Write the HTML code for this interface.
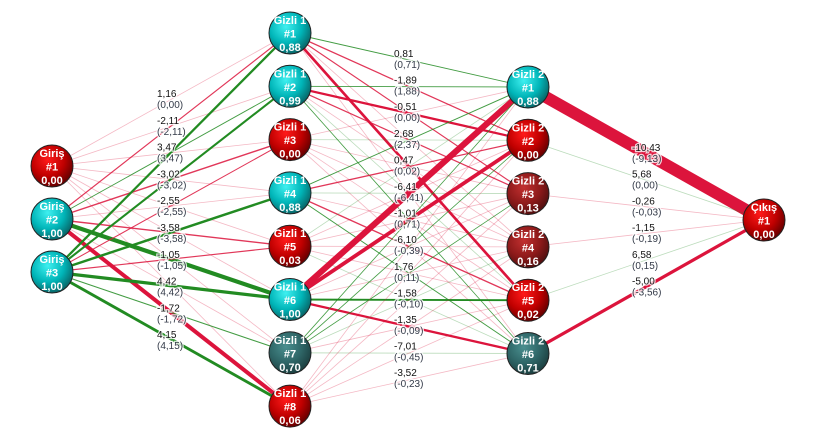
<!DOCTYPE html>
<html><head><meta charset="utf-8"><style>
html,body{margin:0;padding:0;background:#fff;}
svg{display:block;font-family:"Liberation Sans",sans-serif;}
</style></head><body>
<svg id="net" width="817" height="447" viewBox="0 0 817 447" xmlns="http://www.w3.org/2000/svg">
<defs>
<radialGradient id="gCyan" cx="40%" cy="35%" r="65%"><stop offset="0" stop-color="#3ff0f0"/><stop offset="0.6" stop-color="#00b5b8"/><stop offset="1" stop-color="#086a6c"/></radialGradient>
<radialGradient id="gTeal" cx="40%" cy="35%" r="65%"><stop offset="0" stop-color="#4a8f8f"/><stop offset="0.6" stop-color="#2e6566"/><stop offset="1" stop-color="#1d4243"/></radialGradient>
<radialGradient id="gRed" cx="40%" cy="35%" r="65%"><stop offset="0" stop-color="#ff1a1a"/><stop offset="0.6" stop-color="#c00000"/><stop offset="1" stop-color="#6a0000"/></radialGradient>
<radialGradient id="gBrown" cx="40%" cy="35%" r="65%"><stop offset="0" stop-color="#c23030"/><stop offset="0.6" stop-color="#8e1a1a"/><stop offset="1" stop-color="#551010"/></radialGradient>
</defs>
<g id="edges"></g><g id="labels"></g><g id="nodes"></g>
</svg>
<script>
// Layer data
const inputVals = [0.00, 1.00, 1.00];
const hidden1Vals = [0.88, 0.99, 0.00, 0.88, 0.03, 1.00, 0.70, 0.06];
const hidden2Vals = [0.88, 0.00, 0.13, 0.16, 0.02, 0.71];
const outputVals = [0.00];
// weights [from][to] (estimated)
const w1 = [
 [-0.3,-0.4,-0.3,-0.3,-0.3,-0.3,-0.3,-0.3],
 [-1.2, 1.0,-1.5,-0.6,-1.5, 4.4,-0.4,-4.2],
 [ 2.4, 2.2,-1.1, 2.6,-1.2, 3.4, 1.1, 3.0]
];
const w2 = [
 [ 1.0,-1.3,-1.2,-0.5,-2.8,-0.5],
 [ 1.0,-2.4,-1.3,-0.5, 0.6, 0.8],
 [-0.4, 0.4,-0.4,-0.3,-0.4,-0.3],
 [ 1.0,-1.3, 0.5,-0.4,-1.4, 1.0],
 [ 0.4,-0.4,-0.3,-0.4,-0.3, 0.4],
 [-6.4,-4.0,-0.6,-0.6, 2.0,-2.4],
 [ 0.8, 0.8, 0.8, 0.4,-0.4, 0.5],
 [-0.5,-0.4,-0.5,-0.4,-0.5,-0.6]
];
const w3 = [[-10.4],[0.5],[-0.5],[-0.6],[0.5],[-2.8]];
const labels1 = ["1,16","(0,00)","-2,11","(-2,11)","3,47","(3,47)","-3,02","(-3,02)","-2,55","(-2,55)","-3,58","(-3,58)","-1,05","(-1,05)","4,42","(4,42)","-1,72","(-1,72)","4,15","(4,15)"];
const labels2 = ["0,81","(0,71)","-1,89","(1,88)","-0,51","(0,00)","2,68","(2,37)","0,47","(0,02)","-6,41","(-6,41)","-1,01","(0,71)","-6,10","(-0,39)","1,76","(0,11)","-1,58","(-0,10)","-1,35","(-0,09)","-7,01","(-0,45)","-3,52","(-0,23)"];
const labels3 = ["-10,43","(-9,13)","5,68","(0,00)","-0,26","(-0,03)","-1,15","(-0,19)","6,58","(0,15)","-5,00","(-3,56)"];

const NS="http://www.w3.org/2000/svg";
const layerX=[52,290,528,764];
function ys(n,layer){
  if(layer===0) return [166,219,272].slice(0,n);
  if(layer===1) return Array.from({length:n},(_,i)=>33+i*53.3);
  if(layer===2) return Array.from({length:n},(_,i)=>87+i*53.3);
  return [220];
}
const layers=[inputVals,hidden1Vals,hidden2Vals,outputVals];
const names=["Giriş","Gizli 1","Gizli 2","Çıkış"];
const pos=layers.map((v,l)=>ys(v.length,l).map(y=>[layerX[l],y]));
const weights=[w1,w2,w3];
const eg=document.getElementById('edges');
weights.forEach((W,l)=>{
  W.forEach((row,i)=>row.forEach((w,j)=>{
    const a=pos[l][i],b=pos[l+1][j];
    const ln=document.createElementNS(NS,'line');
    
    
    ln.setAttribute('x1',a[0]);ln.setAttribute('y1',a[1]);
    ln.setAttribute('x2',b[0]);ln.setAttribute('y2',b[1]);
    const m=Math.abs(w);
    ln.setAttribute('stroke',w>=0?'#228b22':'#dc143c');
    ln.setAttribute('stroke-width',Math.max(0.8,m*(l===2?1.15:0.95)));
    ln.setAttribute('stroke-opacity',m<0.7?0.3:(m<1.6?0.85:1));
    eg.appendChild(ln);
  }));
});
const lg=document.getElementById('labels');
function addLabels(arr,x,y0,step){
  for(let k=0;k<arr.length;k+=2){
    const y=y0+(k/2)*step;
    [arr[k],arr[k+1]].forEach((s,q)=>{
      const t=document.createElementNS(NS,'text');
      
      
      t.setAttribute('x',x);t.setAttribute('y',y+q*11);
      t.setAttribute('font-size','10');
      t.setAttribute('fill',q?'#333a48':'#111');
      t.setAttribute('stroke','#fff');t.setAttribute('stroke-width','2.5');
      t.setAttribute('stroke-opacity','0.8');t.setAttribute('paint-order','stroke');
      t.textContent=s;lg.appendChild(t);
    });
  }
}
addLabels(labels1,157,97,26.8);
addLabels(labels2,394,57,26.6);
addLabels(labels3,632,151,26.7);
const ng=document.getElementById('nodes');
function fillFor(v){ if(v>=0.85) return 'url(#gCyan)'; if(v>=0.5) return 'url(#gTeal)'; if(v>=0.1) return 'url(#gBrown)'; return 'url(#gRed)'; }
layers.forEach((vals,l)=>vals.forEach((v,i)=>{
  const [x,y]=pos[l][i];
  const g=document.createElementNS(NS,'g');
  
  
  const c=document.createElementNS(NS,'circle');
  
  
  c.setAttribute('cx',x);c.setAttribute('cy',y);c.setAttribute('r',21);
  c.setAttribute('fill',fillFor(v));c.setAttribute('stroke','#222');c.setAttribute('stroke-width','1');
  g.appendChild(c);
  [names[l],'#'+(i+1),v.toFixed(2).replace('.',',')].forEach((s,q)=>{
    const t=document.createElementNS(NS,'text');
    
    
    t.setAttribute('x',x);t.setAttribute('y',y-9+q*13.5);
    t.setAttribute('text-anchor','middle');t.setAttribute('font-size','11');
    t.setAttribute('font-weight','bold');t.setAttribute('fill','#fff');
    t.textContent=s;g.appendChild(t);
  });
  ng.appendChild(g);
}));
</script>
</body></html>
